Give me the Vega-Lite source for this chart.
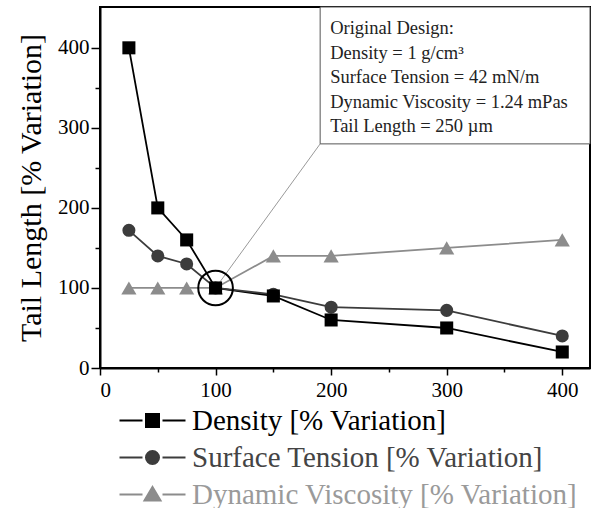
{
  "$schema": "https://vega.github.io/schema/vega-lite/v6.json",
  "width": 490,
  "height": 361,
  "autosize": "none",
  "padding": {"left": 100, "top": 7, "right": 9, "bottom": 140},
  "background": "white",
  "config": {
    "font": "Liberation Serif",
    "view": {"stroke": "black", "strokeWidth": 2},
    "axis": {
      "grid": false,
      "domainColor": "black",
      "domainWidth": 2,
      "tickColor": "black",
      "tickWidth": 1.5,
      "labelFont": "Liberation Serif",
      "labelFontSize": 21,
      "labelColor": "black",
      "titleFont": "Liberation Serif",
      "titleColor": "black",
      "titleFontWeight": "normal"
    }
  },
  "datasets": {
    "series": [
      {"x": 25, "y": 400, "series": "Density [% Variation]"},
      {"x": 50, "y": 200, "series": "Density [% Variation]"},
      {"x": 75, "y": 160, "series": "Density [% Variation]"},
      {"x": 100, "y": 100, "series": "Density [% Variation]"},
      {"x": 150, "y": 90, "series": "Density [% Variation]"},
      {"x": 200, "y": 60, "series": "Density [% Variation]"},
      {"x": 300, "y": 50, "series": "Density [% Variation]"},
      {"x": 400, "y": 20, "series": "Density [% Variation]"},
      {"x": 25, "y": 172, "series": "Surface Tension [% Variation]"},
      {"x": 50, "y": 140, "series": "Surface Tension [% Variation]"},
      {"x": 75, "y": 130, "series": "Surface Tension [% Variation]"},
      {"x": 100, "y": 100, "series": "Surface Tension [% Variation]"},
      {"x": 150, "y": 92, "series": "Surface Tension [% Variation]"},
      {"x": 200, "y": 76, "series": "Surface Tension [% Variation]"},
      {"x": 300, "y": 72, "series": "Surface Tension [% Variation]"},
      {"x": 400, "y": 40, "series": "Surface Tension [% Variation]"},
      {"x": 25, "y": 100, "series": "Dynamic Viscosity [% Variation]"},
      {"x": 50, "y": 100, "series": "Dynamic Viscosity [% Variation]"},
      {"x": 75, "y": 100, "series": "Dynamic Viscosity [% Variation]"},
      {"x": 100, "y": 100, "series": "Dynamic Viscosity [% Variation]"},
      {"x": 150, "y": 140, "series": "Dynamic Viscosity [% Variation]"},
      {"x": 200, "y": 140, "series": "Dynamic Viscosity [% Variation]"},
      {"x": 300, "y": 150, "series": "Dynamic Viscosity [% Variation]"},
      {"x": 400, "y": 160, "series": "Dynamic Viscosity [% Variation]"}
    ],
    "box": [
      {"x": 190.5, "x2": 424, "y": 280, "y2": 451,
       "lines": ["Original Design:", "Density = 1 g/cm³", "Surface Tension = 42 mN/m", "Dynamic Viscosity = 1.24 mPas", "Tail Length = 250 µm"]}
    ],
    "callout": [{"x": 102, "y": 104, "x2": 190.5, "y2": 280}],
    "origin": [{"x": 100, "y": 100}]
  },
  "layer": [
    {
      "data": {"name": "callout"},
      "mark": {"type": "rule", "color": "#999999", "strokeWidth": 1},
      "encoding": {
        "x": {"field": "x", "type": "quantitative", "scale": {"domain": [0, 424], "nice": false, "zero": false},
              "axis": {"title": null, "values": [0, 50, 100, 150, 200, 250, 300, 350, 400],
                       "labelExpr": "datum.value % 100 === 0 ? datum.label : ''",
                       "tickSize": {"condition": {"test": "datum.value % 100 === 0", "value": 7}, "value": 4},
                       "labelPadding": 4}},
        "y": {"field": "y", "type": "quantitative", "scale": {"domain": [0, 451], "nice": false, "zero": false},
              "axis": {"title": "Tail Length [% Variation]", "titleFontSize": 30, "titlePadding": 11,
                       "values": [0, 50, 100, 150, 200, 250, 300, 350, 400],
                       "labelExpr": "datum.value % 100 === 0 ? datum.label : ''",
                       "tickSize": {"condition": {"test": "datum.value % 100 === 0", "value": 9}, "value": 5},
                       "labelPadding": 2}},
        "x2": {"field": "x2"},
        "y2": {"field": "y2"}
      }
    },
    {
      "data": {"name": "box"},
      "mark": {"type": "rect", "fill": "white", "stroke": "#555555", "strokeWidth": 1},
      "encoding": {
        "x": {"field": "x", "type": "quantitative", "scale": {"domain": [0, 424], "nice": false, "zero": false}},
        "x2": {"field": "x2"},
        "y": {"field": "y", "type": "quantitative", "scale": {"domain": [0, 451], "nice": false, "zero": false}},
        "y2": {"field": "y2"}
      }
    },
    {
      "data": {"name": "box"},
      "mark": {"type": "text", "align": "left", "baseline": "top", "dx": 10, "dy": 12, "fontSize": 18.5, "lineHeight": 24.5, "color": "#222222", "font": "Liberation Serif"},
      "encoding": {
        "x": {"field": "x", "type": "quantitative", "scale": {"domain": [0, 424], "nice": false, "zero": false}},
        "y": {"field": "y2", "type": "quantitative", "scale": {"domain": [0, 451], "nice": false, "zero": false}},
        "text": {"field": "lines"}
      }
    },
    {
      "data": {"name": "series"},
      "mark": {"type": "line", "strokeWidth": 1.8},
      "encoding": {
        "x": {"field": "x", "type": "quantitative", "scale": {"domain": [0, 424], "nice": false, "zero": false}},
        "y": {"field": "y", "type": "quantitative", "scale": {"domain": [0, 451], "nice": false, "zero": false}},
        "color": {"field": "series", "type": "nominal",
                  "scale": {"domain": ["Density [% Variation]", "Surface Tension [% Variation]", "Dynamic Viscosity [% Variation]"],
                            "range": ["#000000", "#3c3c3c", "#8c8c8c"]},
                  "legend": {
                    "orient": "none", "legendX": 38, "legendY": 399, "title": null, "padding": 0,
                    "symbolSize": 400, "symbolStrokeWidth": 2, "labelFont": "Liberation Serif", "labelFontSize": 29,
                    "labelLimit": 1000, "labelOffset": 25, "rowPadding": 7,
                    "encode": {
                      "symbols": {"update": {
                        "shape": {"signal": "datum.value === 'Density [% Variation]' ? 'M-3.3,0L-1,0M1,0L3.3,0M-0.65,-0.65L0.65,-0.65L0.65,0.65L-0.65,0.65Z' : datum.value === 'Surface Tension [% Variation]' ? 'M-3.3,0L-1,0M1,0L3.3,0M0.65,0A0.65,0.65,0,1,1,-0.65,0A0.65,0.65,0,1,1,0.65,0Z' : 'M-3.3,0L-1,0M1,0L3.3,0M0,-0.75L0.8,0.6L-0.8,0.6Z'"},
                        "fill": {"signal": "datum.value === 'Density [% Variation]' ? '#000000' : datum.value === 'Surface Tension [% Variation]' ? '#3c3c3c' : '#8c8c8c'"},
                        "stroke": {"signal": "datum.value === 'Density [% Variation]' ? '#000000' : datum.value === 'Surface Tension [% Variation]' ? '#3c3c3c' : '#8c8c8c'"},
                        "strokeWidth": {"value": 2},
                        "opacity": {"value": 1},
                        "fillOpacity": {"value": 1}
                      }},
                      "labels": {"update": {
                        "fill": {"signal": "datum.value === 'Density [% Variation]' ? '#000000' : datum.value === 'Surface Tension [% Variation]' ? '#444444' : '#9a9a9a'"}
                      }}
                    }
                  }}
      }
    },
    {
      "data": {"name": "series"},
      "transform": [{"filter": "datum.series === 'Dynamic Viscosity [% Variation]'"}],
      "mark": {"type": "point", "shape": "triangle-up", "filled": true, "size": 230, "opacity": 1},
      "encoding": {
        "x": {"field": "x", "type": "quantitative", "scale": {"domain": [0, 424], "nice": false, "zero": false}},
        "y": {"field": "y", "type": "quantitative", "scale": {"domain": [0, 451], "nice": false, "zero": false}},
        "color": {"field": "series", "type": "nominal"}
      }
    },
    {
      "data": {"name": "series"},
      "transform": [{"filter": "datum.series === 'Surface Tension [% Variation]'"}],
      "mark": {"type": "point", "shape": "circle", "filled": true, "size": 170, "opacity": 1},
      "encoding": {
        "x": {"field": "x", "type": "quantitative", "scale": {"domain": [0, 424], "nice": false, "zero": false}},
        "y": {"field": "y", "type": "quantitative", "scale": {"domain": [0, 451], "nice": false, "zero": false}},
        "color": {"field": "series", "type": "nominal"}
      }
    },
    {
      "data": {"name": "series"},
      "transform": [{"filter": "datum.series === 'Density [% Variation]'"}],
      "mark": {"type": "point", "shape": "square", "filled": true, "size": 170, "opacity": 1},
      "encoding": {
        "x": {"field": "x", "type": "quantitative", "scale": {"domain": [0, 424], "nice": false, "zero": false}},
        "y": {"field": "y", "type": "quantitative", "scale": {"domain": [0, 451], "nice": false, "zero": false}},
        "color": {"field": "series", "type": "nominal"}
      }
    },
    {
      "data": {"name": "origin"},
      "mark": {"type": "point", "shape": "circle", "filled": false, "size": 1200, "stroke": "black", "strokeWidth": 2, "opacity": 1},
      "encoding": {
        "x": {"field": "x", "type": "quantitative", "scale": {"domain": [0, 424], "nice": false, "zero": false}},
        "y": {"field": "y", "type": "quantitative", "scale": {"domain": [0, 451], "nice": false, "zero": false}}
      }
    }
  ]
}
